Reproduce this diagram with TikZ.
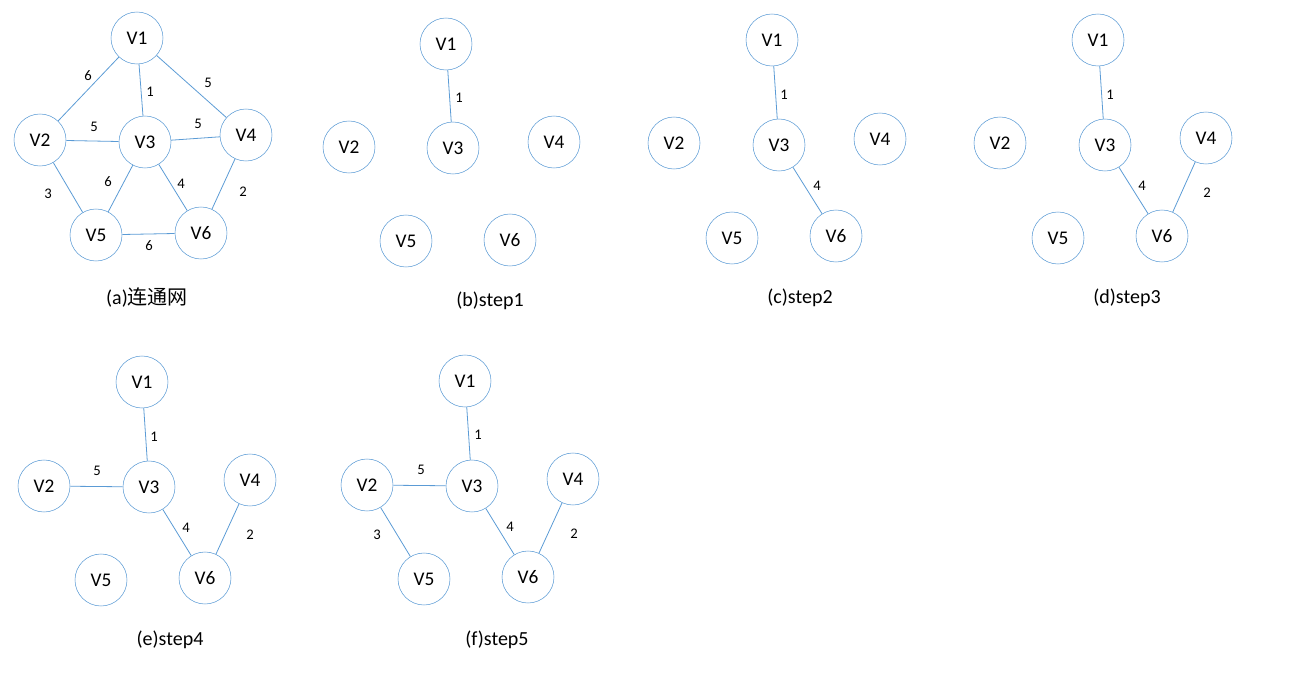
\documentclass[tikz,border=0pt]{standalone}
\usepackage{fontspec}
\setmainfont{Carlito}
\newfontfamily\cjk{Noto Sans CJK SC}
\definecolor{bl}{RGB}{91,155,213}
\begin{document}
\begin{tikzpicture}[x=0.75pt,y=-0.75pt,
 v/.style={circle,draw=bl,fill=white,minimum size=39pt,inner sep=0pt,font=\fontsize{14.5}{16}\selectfont},
 e/.style={draw=bl,line width=0.6pt},
 w/.style={font=\fontsize{11}{12}\selectfont},
 captxt/.style={font=\fontsize{15}{17}\selectfont}]
\useasboundingbox (0,0) rectangle (1296,674);
% (a)
\node[v] (a1) at (137,38) {V1};
\node[v] (a2) at (40,140) {V2};
\node[v] (a3) at (145,142) {V3};
\node[v] (a4) at (246,135) {V4};
\node[v] (a5) at (96,235) {V5};
\node[v] (a6) at (201,233) {V6};
\draw[e] (a1)--(a2); \draw[e] (a1)--(a3); \draw[e] (a1)--(a4);
\draw[e] (a2)--(a3); \draw[e] (a3)--(a4); \draw[e] (a2)--(a5);
\draw[e] (a3)--(a5); \draw[e] (a3)--(a6); \draw[e] (a4)--(a6); \draw[e] (a5)--(a6);
\node[w] (la1) at (88,76) {6}; \node[w] (la2) at (150,92) {1}; \node[w] (la3) at (208,83) {5};
\node[w] (la4) at (94,127) {5}; \node[w] (la5) at (198,124) {5}; \node[w] (la6) at (48,194) {3};
\node[w] (la7) at (108,182) {6}; \node[w] (la8) at (181,184) {4}; \node[w] (la9) at (243,192) {2};
\node[w] (la10) at (149,246) {6};
\node[captxt] (ca) at (147,297) {(a){\cjk 连通网}};
% (b)
\node[v] (b1) at (446,44) {V1};
\node[v] (b2) at (349,147) {V2};
\node[v] (b3) at (453,148) {V3};
\node[v] (b4) at (554,142) {V4};
\node[v] (b5) at (406,241) {V5};
\node[v] (b6) at (510,240) {V6};
\draw[e] (b1)--(b3);
\node[w] (lb1) at (459,98) {1};
\node[captxt] (cb) at (490,301) {(b)step1};
% (c)
\node[v] (c1) at (772,40) {V1};
\node[v] (c2) at (674,143) {V2};
\node[v] (c3) at (779,145) {V3};
\node[v] (c4) at (880,139) {V4};
\node[v] (c5) at (732,238) {V5};
\node[v] (c6) at (836,236) {V6};
\draw[e] (c1)--(c3); \draw[e] (c3)--(c6);
\node[w] (lc1) at (784,95) {1}; \node[w] (lc2) at (817,186) {4};
\node[captxt] (cc) at (800,298) {(c)step2};
% (d)
\node[v] (d1) at (1098,40) {V1};
\node[v] (d2) at (1000,143) {V2};
\node[v] (d3) at (1105,145) {V3};
\node[v] (d4) at (1206,138) {V4};
\node[v] (d5) at (1058,238) {V5};
\node[v] (d6) at (1162,236) {V6};
\draw[e] (d1)--(d3); \draw[e] (d3)--(d6); \draw[e] (d4)--(d6);
\node[w] (ld1) at (1110,95) {1}; \node[w] (ld2) at (1142,186) {4}; \node[w] (ld3) at (1207,193) {2};
\node[captxt] (cd) at (1127,298) {(d)step3};
% (e)
\node[v] (e1) at (142,382) {V1};
\node[v] (e2) at (44,486) {V2};
\node[v] (e3) at (149,487) {V3};
\node[v] (e4) at (250,480) {V4};
\node[v] (e5) at (101,580) {V5};
\node[v] (e6) at (205,578) {V6};
\draw[e] (e1)--(e3); \draw[e] (e2)--(e3); \draw[e] (e3)--(e6); \draw[e] (e4)--(e6);
\node[w] (le1) at (154,437) {1}; \node[w] (le2) at (97,471) {5}; \node[w] (le3) at (186,528) {4}; \node[w] (le4) at (250,535) {2};
\node[captxt] (ce) at (170,640) {(e)step4};
% (f)
\node[v] (f1) at (465,381) {V1};
\node[v] (f2) at (367,485) {V2};
\node[v] (f3) at (472,486) {V3};
\node[v] (f4) at (573,479) {V4};
\node[v] (f5) at (424,579) {V5};
\node[v] (f6) at (528,577) {V6};
\draw[e] (f1)--(f3); \draw[e] (f2)--(f3); \draw[e] (f2)--(f5); \draw[e] (f3)--(f6); \draw[e] (f4)--(f6);
\node[w] (lf1) at (478,435) {1}; \node[w] (lf2) at (421,470) {5}; \node[w] (lf3) at (377,535) {3};
\node[w] (lf4) at (510,527) {4}; \node[w] (lf5) at (574,534) {2};
\node[captxt] (cf) at (497,640) {(f)step5};
\end{tikzpicture}
\end{document}
